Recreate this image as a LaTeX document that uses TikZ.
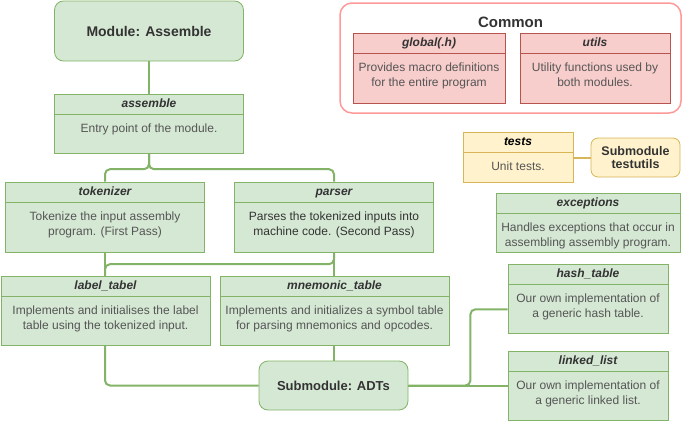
\documentclass[tikz,border=0pt]{standalone}
\usepackage{fontspec}
\setmainfont{Liberation Sans}
\usetikzlibrary{positioning}
\definecolor{grnLine}{HTML}{82B366}
\definecolor{grnFill}{HTML}{D5E8D4}
\definecolor{redLine}{HTML}{B85450}
\definecolor{redFill}{HTML}{F8CECC}
\definecolor{ylwLine}{HTML}{D6B656}
\definecolor{ylwFill}{HTML}{FFF2CC}
\definecolor{comLine}{HTML}{FF9999}
\definecolor{txtDark}{HTML}{333333}
\definecolor{txtGrey}{HTML}{555555}
\tikzset{
  link/.style    = {draw=grnLine, line width=2pt, rounded corners=5pt},
  ylink/.style   = {draw=ylwLine, line width=2pt},
  hdr/.style     = {rectangle, draw=#1Line, fill=#1Fill, line width=0.8pt, minimum height=20pt,
                    inner sep=0pt, text height=8.6pt, text depth=2.2pt,
                    font=\bfseries\itshape\fontsize{12}{14}\selectfont, text=txtDark},
  body/.style    = {rectangle, draw=#1Line, fill=#1Fill, line width=0.8pt, inner sep=0pt, anchor=north},
  txt/.style     = {inner sep=0pt, align=center, font=\fontsize{12}{14.4}\selectfont, text=txtGrey},
  modbox/.style  = {rectangle, rounded corners=9pt, draw=#1Line, fill=#1Fill, line width=0.8pt,
                    align=center, text=txtDark},
  common/.style  = {rectangle, rounded corners=12pt, draw=comLine, fill=white, line width=1.5pt},
}
\begin{document}
\begin{tikzpicture}[x=1pt, y=-1pt]
  \useasboundingbox (0,0) rectangle (682,423);
  % common part
  \node[common, minimum width=341pt, minimum height=110pt] (com) at (510.5,58) {};
  \node[font=\bfseries\fontsize{15}{18}\selectfont, text=txtDark] (com-t) at (510.5,22) {Common};
  \node[hdr=red, minimum width=152pt] (glb) at (429,43) {global(.h)};
  \node[body=red, minimum width=152pt, minimum height=50pt] (glb-b) at (glb.south) {};
  \node[txt, below=9.5pt of glb-b.north] (glb-t) {Provides macro definitions\\for the entire program};
  \node[hdr=red, minimum width=150pt] (utl) at (595,43) {utils};
  \node[body=red, minimum width=150pt, minimum height=50pt] (utl-b) at (utl.south) {};
  \node[txt, below=9.5pt of utl-b.north] (utl-t) {Utility functions used by\\both modules.};

  % module
  \node[modbox=grn, minimum width=189pt, minimum height=60pt, font=\bfseries\fontsize{14}{16}\selectfont] (mod) at (149,31) {Module: Assemble};
  \node[hdr=grn, minimum width=189pt] (asm) at (149,104) {assemble};
  \node[body=grn, minimum width=189pt, minimum height=39pt] (asm-b) at (asm.south) {};
  \node[txt, below=9.5pt of asm-b.north] (asm-t) {Entry point of the module.};

  \node[hdr=grn, minimum width=199pt] (tok) at (105,192) {tokenizer};
  \node[body=grn, minimum width=199pt, minimum height=50pt] (tok-b) at (tok.south) {};
  \node[txt, below=9.5pt of tok-b.north] (tok-t) {Tokenize the input assembly\\program. (First Pass)};
  \node[hdr=grn, minimum width=199pt] (par) at (334,192) {parser};
  \node[body=grn, minimum width=199pt, minimum height=50pt] (par-b) at (par.south) {};
  \node[txt, text=txtDark, below=9.5pt of par-b.north] (par-t) {Parses the tokenized inputs into\\machine code. (Second Pass)};

  \node[hdr=grn, minimum width=209pt] (lab) at (105.5,286) {label\_tabel};
  \node[body=grn, minimum width=209pt, minimum height=49pt] (lab-b) at (lab.south) {};
  \node[txt, below=9.5pt of lab-b.north] (lab-t) {Implements and initialises the label\\table using the tokenized input.};
  \node[hdr=grn, minimum width=229pt] (mne) at (334.5,286) {mnemonic\_table};
  \node[body=grn, minimum width=229pt, minimum height=49pt] (mne-b) at (mne.south) {};
  \node[txt, below=9.5pt of mne-b.north] (mne-t) {Implements and initializes a symbol table\\for parsing mnemonics and opcodes.};

  \node[modbox=grn, minimum width=149pt, minimum height=49pt, font=\bfseries\fontsize{13}{15}\selectfont] (adt) at (333.5,385.5) {Submodule: ADTs};
  \node[hdr=grn, minimum width=160pt] (hsh) at (588,274) {hash\_table};
  \node[body=grn, minimum width=160pt, minimum height=49pt] (hsh-b) at (hsh.south) {};
  \node[txt, below=9.5pt of hsh-b.north] (hsh-t) {Our own implementation of\\a generic hash table.};
  \node[hdr=grn, minimum width=160pt] (lnk) at (588,361) {linked\_list};
  \node[body=grn, minimum width=160pt, minimum height=49pt] (lnk-b) at (lnk.south) {};
  \node[txt, below=9.5pt of lnk-b.north] (lnk-t) {Our own implementation of\\a generic linked list.};

  \node[hdr=grn, minimum width=184pt] (exc) at (588,203) {exceptions};
  \node[body=grn, minimum width=184pt, minimum height=39pt] (exc-b) at (exc.south) {};
  \node[txt, below=9.5pt of exc-b.north] (exc-t) {Handles exceptions that occur in\\assembling assembly program.};

  % tests
  \node[hdr=ylw, minimum width=110pt, text=black] (tst) at (518,142) {tests};
  \node[body=ylw, minimum width=110pt, minimum height=30pt] (tst-b) at (tst.south) {};
  \node[txt, below=9.5pt of tst-b.north] (tst-t) {Unit tests.};
  \node[modbox=ylw, minimum width=89pt, minimum height=39pt, rounded corners=7pt, inner sep=0pt,
        font=\bfseries\fontsize{12.5}{13}\selectfont] (tsu) at (635.5,157.5) {Submodule\\testutils};

  % connectors
  \draw[link] (mod.south) -- (asm.north);
  \draw[link] (asm-b.south) -- ++(0,15) -| (tok.north);
  \draw[link] (asm-b.south) -- ++(0,15) -| (par.north);
  \draw[link] (tok-b.south) -- (tok-b.south |- lab.north);
  \draw[link] (par-b.south) -- (par-b.south |- mne.north);
  \draw[link] (par-b.south) -- ++(0,11) -| (tok-b.south |- lab.north);
  \draw[link] (tok-b.south |- lab-b.south) |- (adt.west);
  \draw[link] (par-b.south |- mne-b.south) -- (par-b.south |- adt.north);
  \draw[link] (adt.east) -- ++(62,0) |- (hsh-b.west);
  \draw[link] (adt.east) -- (adt.east -| lnk-b.west);
  \draw[ylink] (tsu.west) -- (tsu.west -| tst-b.east);
\end{tikzpicture}
\end{document}
